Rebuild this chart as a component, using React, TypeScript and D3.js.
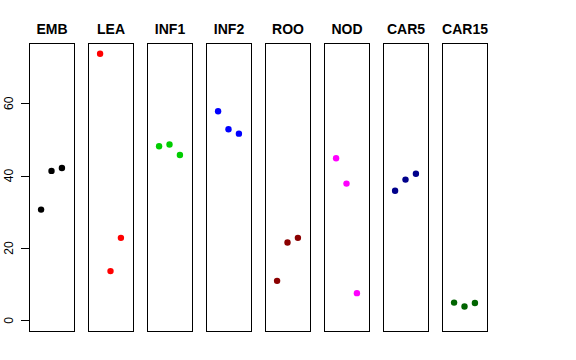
import React from "react";
import * as d3 from "d3";

const categories = ["EMB", "LEA", "INF1", "INF2", "ROO", "NOD", "CAR5", "CAR15"];
const colors = ["#000000", "#FF0000", "#00CD00", "#0000FF", "#8B0000", "#FF00FF", "#00008B", "#006400"];
const seriesValues: number[][] = [
  [30.6, 41.3, 42.1],
  [73.7, 13.6, 22.8],
  [48.1, 48.6, 45.7],
  [57.8, 52.8, 51.6],
  [10.9, 21.5, 22.8],
  [44.8, 37.8, 7.5],
  [35.8, 38.9, 40.5],
  [4.9, 3.8, 4.8],
];
const yTicks = [0, 20, 40, 60];

export default function App() {
  const W = 576, H = 360;
  const yMax = 73.8;
  const ext = yMax * 0.04;
  const y = d3.scaleLinear().domain([0, yMax]).range([320.3, 320.3 - yMax * 3.617]);
  const boxTop = y(yMax + ext);
  const boxBot = y(-ext);
  const panelW = 45;
  const step = 59;
  const left0 = 29;
  const font = "Liberation Sans, Arial, Helvetica, sans-serif";
  return (
    <svg width={W} height={H} style={{ position: "absolute", left: 0, top: 0 }} fontFamily={font}>
      <rect width={W} height={H} fill="#fff" />
      {categories.map((c, i) => {
        const x0 = left0 + i * step;
        const x = d3.scaleLinear().domain([-0.16, 4.16]).range([x0, x0 + panelW]);
        return (
          <g key={c}>
            <rect x={x0 + 0.5} y={Math.round(boxTop) + 0.5} width={panelW} height={Math.round(boxBot) - Math.round(boxTop)} fill="none" stroke="#000" strokeWidth={1} />
            <text x={x0 + panelW / 2 + 0.5} y={34} textAnchor="middle" fontWeight="bold" fontSize={14}>{c}</text>
            {seriesValues[i].map((v, j) => (
              <circle key={j} cx={x(j + 1)} cy={y(v)} r={3.2} fill={colors[i]} />
            ))}
          </g>
        );
      })}
      {yTicks.map((t) => (
        <g key={t}>
          <line x1={21} x2={29} y1={Math.round(y(t)) + 0.5} y2={Math.round(y(t)) + 0.5} stroke="#000" />
          <text transform={`translate(13,${y(t)}) rotate(-90)`} textAnchor="middle" fontSize={12}>{t}</text>
        </g>
      ))}
    </svg>
  );
}
